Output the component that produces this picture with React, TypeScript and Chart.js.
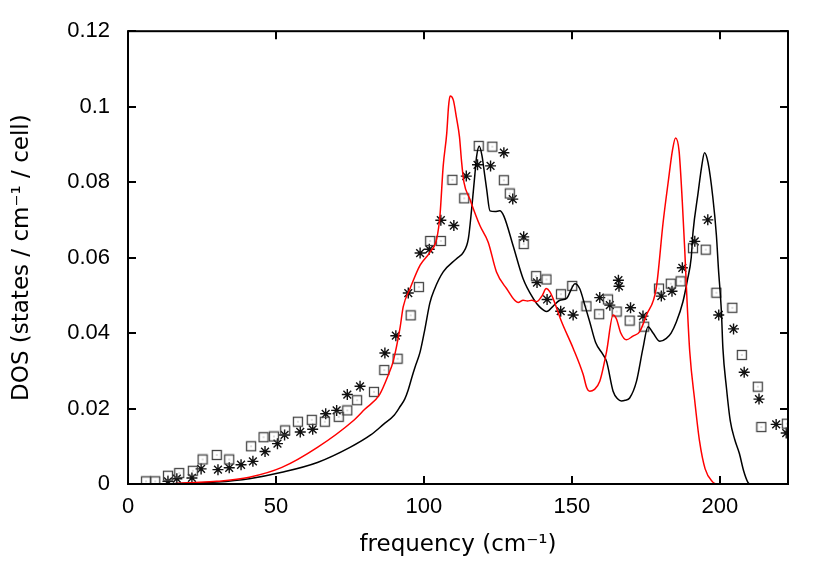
import React, { useEffect, useRef } from "react";
import { Chart, registerables } from "chart.js";

Chart.register(...registerables);

// ---- tick labels ----
const xTickValues = [0, 50, 100, 150, 200];
const yTickValues = [0, 0.02, 0.04, 0.06, 0.08, 0.1, 0.12];

// ---- red curve ----
const redFreq = [15, 20, 30, 41, 52, 64, 76, 80, 85, 88, 89.6, 91.9, 93, 95.3, 98.7, 102, 104.3, 105.4, 106.5, 107.7, 108.3, 108.8, 109.9, 111, 112, 112.7, 113.5, 115.5, 118.9, 121.7, 124.5, 127.9, 131.8, 133.5, 135, 136.5, 138, 140, 141.3, 142.5, 143.6, 146.5, 150.4, 153.8, 155, 156, 157.5, 159.4, 161.7, 163.9, 165, 166.5, 168.4, 170.6, 172.9, 175.2, 178.5, 180.8, 182.5, 184, 185, 186.2, 187.3, 188.1, 188.9, 189.8, 191.5, 193.1, 195, 197.6, 198.5];
const redDos = [0, 0.0003, 0.0007, 0.0018, 0.0044, 0.0097, 0.0167, 0.0198, 0.0237, 0.029, 0.0325, 0.0413, 0.047, 0.0518, 0.058, 0.0614, 0.065, 0.0711, 0.0843, 0.093, 0.1, 0.1028, 0.1018, 0.097, 0.092, 0.0855, 0.08, 0.0755, 0.0685, 0.0641, 0.0562, 0.0518, 0.0481, 0.0487, 0.0485, 0.0487, 0.0483, 0.05, 0.0518, 0.051, 0.0492, 0.043, 0.036, 0.029, 0.0255, 0.0246, 0.025, 0.0272, 0.0351, 0.0448, 0.0438, 0.04, 0.0382, 0.0392, 0.0404, 0.0448, 0.052, 0.0693, 0.0799, 0.0886, 0.0917, 0.0882, 0.0746, 0.0623, 0.0483, 0.0351, 0.022, 0.0114, 0.004, 0.0005, 0];

// ---- black curve ----
const blackFreq = [10, 20, 30, 41, 52, 64, 75, 82, 86.3, 90, 92, 93.5, 94.7, 96, 97, 98.7, 100.3, 102, 103.5, 106.5, 111, 113.3, 115, 116.1, 117.2, 117.8, 118.7, 119.6, 120.5, 121.2, 122.3, 124, 125.6, 127, 130.1, 133.5, 136.9, 139, 141.5, 143.5, 145.9, 148.2, 150, 151, 152.6, 154.5, 156, 158, 160.5, 161.7, 163.9, 165.5, 166.7, 168, 169.5, 171.8, 174, 175.7, 177.4, 179.7, 181.9, 183.5, 185.3, 187.5, 189, 190.3, 190.9, 192.6, 193.8, 194.8, 196, 197.6, 198.8, 199.5, 200.5, 201, 202.2, 203.5, 205, 206.6, 208, 209.4, 210];
const blackDos = [0, 0.0002, 0.0005, 0.0014, 0.0031, 0.0057, 0.0097, 0.013, 0.0158, 0.0183, 0.0206, 0.0225, 0.025, 0.0285, 0.031, 0.035, 0.041, 0.048, 0.0515, 0.0562, 0.0597, 0.0614, 0.065, 0.0728, 0.082, 0.0869, 0.0895, 0.087, 0.082, 0.078, 0.0724, 0.0722, 0.0724, 0.071, 0.0632, 0.0544, 0.0492, 0.047, 0.0457, 0.047, 0.0487, 0.0492, 0.052, 0.0531, 0.0518, 0.047, 0.043, 0.0375, 0.0343, 0.0325, 0.0246, 0.0225, 0.022, 0.0222, 0.0228, 0.0272, 0.036, 0.0417, 0.04, 0.0378, 0.0386, 0.04, 0.043, 0.0483, 0.054, 0.06, 0.0667, 0.077, 0.084, 0.0878, 0.0851, 0.076, 0.066, 0.057, 0.0457, 0.036, 0.0255, 0.0167, 0.0118, 0.008, 0.0035, 0.0005, 0];

// ---- square markers ----
const squareFreq = [6.1, 9.2, 13.5, 17.3, 21.9, 25.2, 30, 34.2, 41.6, 45.8, 49.3, 53.1, 57.4, 62.1, 66.5, 71.2, 74.1, 77.4, 83.1, 86.6, 91.1, 95.5, 98.3, 102.1, 105.7, 109.6, 113.6, 118.5, 123.1, 127, 129, 133.7, 137.9, 141.4, 146.3, 150.1, 154.9, 159.2, 162.2, 165.1, 169.5, 174.4, 179.4, 183.4, 186.7, 190.9, 195.2, 198.8, 204.2, 207.4, 212.8, 214, 222.6];
const squareDos = [0.0007, 0.0007, 0.0022, 0.0029, 0.0035, 0.0065, 0.0077, 0.0065, 0.01, 0.0124, 0.0126, 0.0142, 0.0165, 0.017, 0.0165, 0.0178, 0.0195, 0.0222, 0.0244, 0.0302, 0.0332, 0.0447, 0.0522, 0.0644, 0.0644, 0.0806, 0.0757, 0.0896, 0.0894, 0.0805, 0.077, 0.0636, 0.0551, 0.0542, 0.0503, 0.0525, 0.0471, 0.045, 0.0489, 0.0457, 0.0433, 0.0417, 0.0518, 0.0531, 0.0537, 0.0625, 0.0621, 0.0507, 0.0467, 0.0342, 0.0258, 0.0151, 0.016];

// ---- star markers ----
const starFreq = [13.5, 16.5, 21.6, 24.7, 30.4, 34.2, 38.2, 42.2, 46.3, 50.5, 52.9, 58.2, 62.4, 66.8, 70.5, 74.1, 78.4, 86.8, 90.5, 94.7, 98.7, 101.8, 105.7, 110.1, 114.3, 118.1, 122.5, 127, 130, 133.7, 138.2, 141.6, 146.2, 150.4, 159.4, 162.8, 165.7, 165.9, 169.8, 174, 180.2, 183.8, 187.3, 191.5, 195.9, 199.6, 204.6, 208.2, 213.2, 219, 222.4];
const starDos = [0.0007, 0.0014, 0.0016, 0.004, 0.0038, 0.0043, 0.0051, 0.006, 0.0086, 0.0107, 0.013, 0.0138, 0.0145, 0.0186, 0.0195, 0.0237, 0.0259, 0.0347, 0.0393, 0.0506, 0.0612, 0.0622, 0.0699, 0.0685, 0.0816, 0.0846, 0.0843, 0.0878, 0.0755, 0.0655, 0.0534, 0.0489, 0.0458, 0.0448, 0.0494, 0.0474, 0.054, 0.0524, 0.0467, 0.0445, 0.0498, 0.0511, 0.0573, 0.0643, 0.07, 0.0448, 0.0411, 0.0296, 0.0225, 0.0158, 0.0135];

const pts = (xs: number[], ys: number[]) => xs.map((x, i) => ({ x, y: ys[i] }));

function makeSquareMarker(): HTMLCanvasElement {
  const c = document.createElement("canvas");
  c.width = 12;
  c.height = 12;
  const g = c.getContext("2d")!;
  g.strokeStyle = "#444";
  g.lineWidth = 1.3;
  g.strokeRect(1.5, 1.5, 9, 9);
  g.fillStyle = "#777";
  g.fillRect(5.5, 5.5, 1, 1);
  return c;
}

const framePlugin = {
  id: "frame",
  afterDatasetsDraw(chart: any) {
    const { ctx, chartArea } = chart;
    const { left, right, top, bottom } = chartArea;
    const xs = chart.scales.x;
    const ys = chart.scales.y;
    ctx.save();
    ctx.strokeStyle = "#000";
    ctx.lineWidth = 2;
    ctx.strokeRect(left, top, right - left, bottom - top);
    ctx.beginPath();
    const tl = 8;
    xTickValues.forEach((v) => {
      const px = Math.round(xs.getPixelForValue(v));
      ctx.moveTo(px, bottom);
      ctx.lineTo(px, bottom - tl);
      ctx.moveTo(px, top);
      ctx.lineTo(px, top + tl);
    });
    yTickValues.forEach((v) => {
      const py = Math.round(ys.getPixelForValue(v));
      ctx.moveTo(left, py);
      ctx.lineTo(left + tl, py);
      ctx.moveTo(right, py);
      ctx.lineTo(right - tl, py);
    });
    ctx.stroke();
    ctx.restore();
  },
};

export default function App() {
  const ref = useRef<HTMLCanvasElement | null>(null);
  useEffect(() => {
    if (!ref.current) return;
    const sq = makeSquareMarker();
    const chart = new Chart(ref.current, {
      type: "scatter",
      data: {
        datasets: [
          {
            label: "red",
            data: pts(redFreq, redDos),
            showLine: true,
            borderColor: "#ff0000",
            borderWidth: 1.5,
            pointRadius: 0,
            cubicInterpolationMode: "monotone",
          },
          {
            label: "black",
            data: pts(blackFreq, blackDos),
            showLine: true,
            borderColor: "#000000",
            borderWidth: 1.5,
            pointRadius: 0,
            cubicInterpolationMode: "monotone",
          },
          {
            label: "squares",
            data: pts(squareFreq, squareDos),
            pointStyle: sq as any,
            pointRadius: 6,
            showLine: false,
          },
          {
            label: "stars",
            data: pts(starFreq, starDos),
            pointStyle: "star",
            pointRadius: 5.5,
            borderColor: "#111",
            backgroundColor: "#111",
            borderWidth: 1.4,
            showLine: false,
          },
        ] as any,
      },
      options: {
        animation: false,
        responsive: false,
        events: [],
        layout: { padding: { left: 0, right: 42, top: 28, bottom: 0 } },
        plugins: { legend: { display: false }, tooltip: { enabled: false } },
        scales: {
          x: {
            type: "linear",
            min: 0,
            max: 223,
            grid: { display: false, drawTicks: false },
            border: { display: false },
            afterBuildTicks: (s: any) => {
              s.ticks = xTickValues.map((v) => ({ value: v }));
            },
            afterFit: (s: any) => {
              s.height = 97;
            },
            ticks: {
              padding: 10,
              color: "#000",
              font: { family: "Liberation Sans", size: 22 },
              callback: (v: any) => String(v),
            },
            title: {
              display: true,
              text: "frequency (cm⁻¹)",
              color: "#000",
              font: { family: "DejaVu Sans", size: 23 },
              padding: { top: 0, bottom: 22 },
            },
          },
          y: {
            type: "linear",
            min: 0,
            max: 0.12,
            grid: { display: false, drawTicks: false },
            border: { display: false },
            afterBuildTicks: (s: any) => {
              s.ticks = yTickValues.map((v) => ({ value: v }));
            },
            afterFit: (s: any) => {
              s.width = 128;
            },
            ticks: {
              padding: 18,
              color: "#000",
              font: { family: "Liberation Sans", size: 22 },
              callback: (v: any) => String(Number(Number(v).toFixed(2))),
            },
            title: {
              display: true,
              text: "DOS (states / cm⁻¹ / cell)",
              color: "#000",
              font: { family: "DejaVu Sans", size: 23 },
              padding: { top: 8, bottom: 0 },
            },
          },
        },
      },
      plugins: [framePlugin],
    });
    return () => chart.destroy();
  }, []);
  return (
    <canvas
      ref={ref}
      width={830}
      height={581}
      style={{ position: "fixed", left: 0, top: 0, width: 830, height: 581 }}
    />
  );
}
